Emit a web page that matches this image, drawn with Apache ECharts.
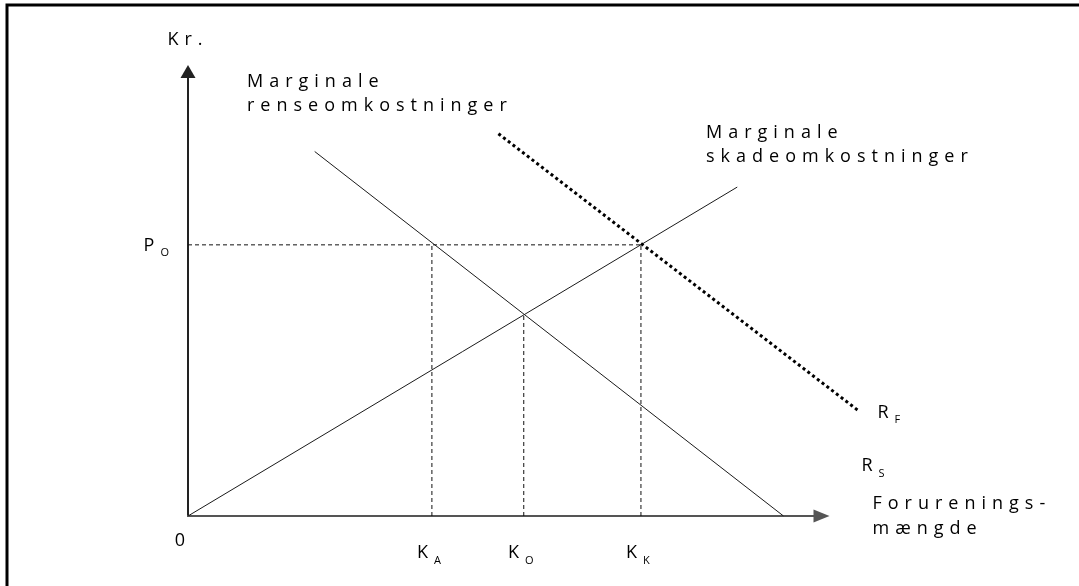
<!DOCTYPE html>
<html>
<head>
<meta charset="utf-8">
<script src="https://cdn.jsdelivr.net/npm/echarts@6/dist/echarts.min.js"></script>
<style>
html, body { margin: 0; padding: 0; background: #fff; }
#chart { width: 1079px; height: 586px; }
</style>
</head>
<body>
<div id="chart"></div>
<script>
// abstract units: mængde 0-100 on x, kroner 0-100 on y
var P0 = 61;
var KA = 38.5, KO = 53, KK = 71.5;
var KOy = 45.3;

var rensX = [20, 94];     var rensY = [82, 0];      // R_S
var skadeX = [0, 86.7];   var skadeY = [0, 74];     // marginale skadeomk.
var rfX = [49, 106];      var rfY = [86, 23.5];     // R_F (prikket)

var xTickValues = [0, KA, KO, KK];
var xTickLabels = ['{zero|0}', '{k|K}{sub|A}', '{k|K}{sub|O}', '{k|K}{sub|K}'];
var yTickValues = [P0];
var yTickLabels = ['{k|P}{sub|O}'];

var guideX = [KA, KO, KK];
var guideTop = [P0, KOy, P0];

// sperret skrift som i originalen
var LETTER_SPACING = '6px';
(function () {
    var proto = CanvasRenderingContext2D.prototype;
    var fill = proto.fillText, measure = proto.measureText;
    proto.fillText = function () { this.letterSpacing = LETTER_SPACING; return fill.apply(this, arguments); };
    proto.measureText = function () { this.letterSpacing = LETTER_SPACING; return measure.apply(this, arguments); };
})();

var FONT = 'Open Sans';

function pairs(xs, ys) {
    return xs.map(function (x, i) { return [x, ys[i]]; });
}

var solid = { color: '#1a1a1a', width: 1 };
var dashed = { color: '#111', width: 1, type: [4, 3] };

var subRich = {
    k: { fontSize: 18, fontFamily: FONT, color: '#000', lineHeight: 22, verticalAlign: 'top' },
    sub: { fontSize: 11, fontFamily: FONT, color: '#000', lineHeight: 12, verticalAlign: 'top', padding: [11, 0, 0, 0] }
};

var series = [
    {
        name: 'renseomkostninger', type: 'line', data: pairs(rensX, rensY),
        symbol: 'none', lineStyle: solid, z: 3,
        endLabel: { show: true, formatter: '{k|R}{sub|S}', distance: 8, offset: [70, -51], rich: subRich }
    },
    {
        name: 'skadeomkostninger', type: 'line', data: pairs(skadeX, skadeY),
        symbol: 'none', lineStyle: solid, z: 3
    },
    {
        // R_F går ud over x-aksens ende, derfor eget (usynligt) grid med samme skala
        name: 'RF', type: 'line', data: pairs(rfX, rfY),
        xAxisIndex: 1, yAxisIndex: 1,
        symbol: 'none', lineStyle: { color: '#000', width: 3, type: [3, 3] }, z: 3,
        endLabel: { show: true, formatter: '{k|R}{sub|F}', distance: 8, offset: [10, 0], rich: subRich }
    },
    {
        name: 'P0', type: 'line', data: [[0, P0], [KK, P0]],
        symbol: 'none', lineStyle: dashed
    }
];
guideX.forEach(function (gx, i) {
    series.push({
        name: 'guide' + i, type: 'line', data: [[gx, 0], [gx, guideTop[i]]],
        symbol: 'none', lineStyle: dashed
    });
});

var chart = echarts.init(document.getElementById('chart'));
var option = {
    animation: false,
    backgroundColor: '#fff',
    grid: [
        { left: 188, top: 71.5, right: 257.5, bottom: 70 },
        { left: 188, top: 71.5, right: 1079 - 188 - 633.5 * 1.1, bottom: 70 }
    ],
    xAxis: [{
        type: 'value', min: 0, max: 100,
        name: 'Forurenings-\nmængde', nameLocation: 'end', nameGap: 51,
        nameTextStyle: { fontSize: 18, fontFamily: FONT, color: '#000', lineHeight: 25, align: 'left', padding: [0, 0, 28, 0] },
        axisLine: { lineStyle: { color: '#555', width: 2 }, symbol: ['none', 'triangle'], symbolSize: [13, 16] },
        axisTick: { show: false },
        splitLine: { show: false },
        axisLabel: {
            customValues: xTickValues, margin: 13,
            formatter: function (v) { return xTickLabels[xTickValues.indexOf(v)]; },
            rich: {
                zero: { fontSize: 18, fontFamily: FONT, color: '#000', lineHeight: 22, verticalAlign: 'top', padding: [0, 10, 0, 0] },
                k: { fontSize: 18, fontFamily: FONT, color: '#000', lineHeight: 22, verticalAlign: 'top', padding: [12, 0, 0, 0] },
                sub: { fontSize: 11, fontFamily: FONT, color: '#000', lineHeight: 12, verticalAlign: 'top', padding: [23, 0, 0, 0] }
            }
        }
    }, {
        gridIndex: 1, type: 'value', min: 0, max: 110, show: false
    }],
    yAxis: [{
        type: 'value', min: 0, max: 100,
        name: 'Kr.', nameLocation: 'end', nameGap: 20,
        nameTextStyle: { fontSize: 18, fontFamily: FONT, color: '#000' },
        axisLine: { lineStyle: { color: '#222', width: 2 }, symbol: ['none', 'triangle'], symbolSize: [15, 13] },
        axisTick: { show: false },
        splitLine: { show: false },
        axisLabel: {
            customValues: yTickValues, margin: 13,
            formatter: function (v) { return yTickLabels[yTickValues.indexOf(v)]; },
            rich: subRich
        }
    }, {
        gridIndex: 1, type: 'value', min: 0, max: 100, show: false
    }],
    graphic: [
        {
            type: 'polyline', silent: true,
            shape: { points: [[7, 586], [7, 5], [1079, 5]] },
            style: { stroke: '#000', lineWidth: 3, fill: null }
        },
        {
            type: 'text', x: 247, y: 70,
            style: { text: 'Marginale\nrenseomkostninger', fontSize: 18, fontFamily: FONT, lineHeight: 24, fill: '#000' }
        },
        {
            type: 'text', x: 706, y: 121,
            style: { text: 'Marginale\nskadeomkostninger', fontSize: 18, fontFamily: FONT, lineHeight: 24, fill: '#000' }
        }
    ],
    series: series
};
chart.setOption(option);
</script>
</body>
</html>
